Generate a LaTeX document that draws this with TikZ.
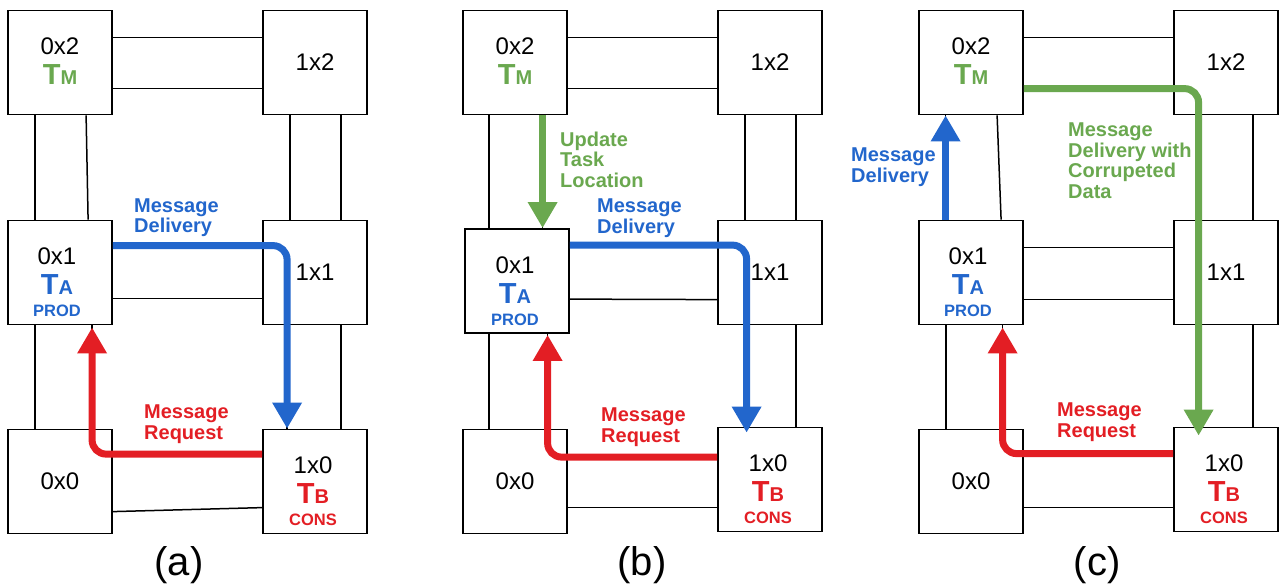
\documentclass[tikz,border=0pt]{standalone}
\usepackage{fontspec}
\setmainfont{Liberation Sans}
\usetikzlibrary{arrows.meta,calc}

\definecolor{msgblue}{HTML}{2266CC}
\definecolor{reqred}{HTML}{E31E24}
\definecolor{taskgreen}{HTML}{6AA84F}

% task name: large T followed by a smaller letter on the same baseline
\newcommand\tsk[1]{{\fontsize{29}{29}\selectfont\bfseries T}{\fontsize{20}{20}\selectfont\bfseries #1}}

% labels of a tile that hosts a task: coordinate, task, colour, role, horizontal shift
\newcommand\tasktile[6]{%
  \node[num] (#1n) at ([xshift=#6pt,yshift=16pt]#1.center) {#2};
  \node[tname,text=#4] (#1t) at ([xshift=#6pt,yshift=-22pt]#1.center) {\tsk{#3}};
  \node[role,text=#4] (#1r) at ([xshift=#6pt,yshift=-44pt]#1.center) {#5};}

\tikzset{
  tile/.style={draw=black, line width=1.8pt, fill=white, minimum width=104pt,
               minimum height=104pt, inner sep=0pt},
  link/.style={draw=black, line width=1.5pt},
  flow/.style={line width=7pt, rounded corners=14pt, line cap=butt,
               -{Triangle[width=28pt,length=26pt]}},
  num/.style={inner sep=0pt, font=\fontsize{24}{24}\selectfont},
  tname/.style={inner sep=0pt, anchor=base},
  role/.style={inner sep=0pt, anchor=base, font=\fontsize{16.5}{16.5}\selectfont\bfseries},
  note/.style={inner sep=0pt, anchor=north west, align=left,
               font=\fontsize{20}{20.5}\selectfont\bfseries},
  caption/.style={inner sep=0pt, font=\fontsize{40}{40}\selectfont},
}

\begin{document}
\begin{tikzpicture}[x=1pt,y=-1pt]
\useasboundingbox (0,0) rectangle (1279,587);

% ---------------- tiles ----------------
\foreach \p/\dx in {a/0,c/911}{
  \node[tile] (\p02) at (60+\dx,62.5)  {};
  \node[tile] (\p12) at (315+\dx,62.5) {};
  \node[tile] (\p01) at (60+\dx,272.5) {};
  \node[tile] (\p11) at (315+\dx,272.5){};
  \node[tile] (\p00) at (60+\dx,481.5) {};
}
\node[tile] (a10) at (315,481.5) {};
\node[tile] (c10) at (1226,479.5) {};

\node[tile] (b02) at (515,62.5)  {};
\node[tile] (b12) at (770,62.5)  {};
\node[tile] (b01) at (517,281)   {};
\node[tile] (b11) at (770,272.5) {};
\node[tile] (b00) at (515,481.5) {};
\node[tile] (b10) at (770,479.5) {};

% ---------------- links, panel (a) ----------------
\draw[link] ([yshift=-28pt]a02.north east) -- ([yshift=-28pt]a12.north west);
\draw[link] ([yshift=-79pt]a02.north east) -- ([yshift=-79pt]a12.north west);
\draw[link] ([yshift=-26pt]a01.north east) -- ([yshift=-26pt]a11.north west);
\draw[link] ([yshift=-79pt]a01.north east) -- ([yshift=-79pt]a11.north west);
\draw[link] ([yshift=-25.5pt]a00.north east) -- ([yshift=-25.5pt]a10.north west);
\draw[link] ([yshift=-83pt]a00.north east) -- ([yshift=-79pt]a10.north west);
\draw[link] ([xshift=28pt]a02.south west) -- ([xshift=28pt]a01.north west);
\draw[link] ([xshift=79pt]a02.south west) -- ([xshift=81pt]a01.north west);
\draw[link] ([xshift=28pt]a01.south west) -- ([xshift=28pt]a00.north west);
\draw[link] ([xshift=85pt]a01.south west) -- ([xshift=85pt]a00.north west);
\draw[link] ([xshift=28pt]a12.south west) -- ([xshift=28pt]a11.north west);
\draw[link] ([xshift=79pt]a12.south west) -- ([xshift=79pt]a11.north west);
\draw[link] ([xshift=25pt]a11.south west) -- ([xshift=25pt]a10.north west);
\draw[link] ([xshift=79pt]a11.south west) -- ([xshift=79pt]a10.north west);

% ---------------- links, panel (b) ----------------
\draw[link] ([yshift=-28pt]b02.north east) -- ([yshift=-28pt]b12.north west);
\draw[link] ([yshift=-79pt]b02.north east) -- ([yshift=-79pt]b12.north west);
\draw[link] ([yshift=-17pt]b01.north east) -- ([yshift=-26pt]b11.north west);
\draw[link] ([yshift=-71pt]b01.north east) -- ([yshift=-80pt]b11.north west);
\draw[link] ([yshift=-28.5pt]b00.north east) -- ([yshift=-30.5pt]b10.north west);
\draw[link] ([yshift=-79pt]b00.north east) -- ([yshift=-81pt]b10.north west);
\draw[link] ([xshift=27pt]b02.south west) -- ([xshift=25pt]b01.north west);
\draw[link] ([xshift=80.5pt]b02.south west) -- ([xshift=78.5pt]b01.north west);
\draw[link] ([xshift=25pt]b01.south west) -- ([xshift=27pt]b00.north west);
\draw[link] ([xshift=83.5pt]b01.south west) -- ([xshift=85.5pt]b00.north west);
\draw[link] ([xshift=28pt]b12.south west) -- ([xshift=28pt]b11.north west);
\draw[link] ([xshift=79pt]b12.south west) -- ([xshift=79pt]b11.north west);
\draw[link] ([xshift=29.5pt]b11.south west) -- ([xshift=29.5pt]b10.north west);
\draw[link] ([xshift=79pt]b11.south west) -- ([xshift=79pt]b10.north west);

% ---------------- links, panel (c) ----------------
\draw[link] ([yshift=-28pt]c02.north east) -- ([yshift=-28pt]c12.north west);
\draw[link] ([yshift=-79pt]c02.north east) -- ([yshift=-79pt]c12.north west);
\draw[link] ([yshift=-28pt]c01.north east) -- ([yshift=-28pt]c11.north west);
\draw[link] ([yshift=-80pt]c01.north east) -- ([yshift=-80pt]c11.north west);
\draw[link] ([yshift=-25pt]c00.north east) -- ([yshift=-27pt]c10.north west);
\draw[link] ([yshift=-79pt]c00.north east) -- ([yshift=-81pt]c10.north west);
\draw[link] ([xshift=27.5pt]c02.south west) -- ([xshift=27.5pt]c01.north west);
\draw[link] ([xshift=79pt]c02.south west) -- ([xshift=83pt]c01.north west);
\draw[link] ([xshift=28pt]c01.south west) -- ([xshift=28pt]c00.north west);
\draw[link] ([xshift=84.5pt]c01.south west) -- ([xshift=84.5pt]c00.north west);
\draw[link] ([xshift=25.5pt]c12.south west) -- ([xshift=25.5pt]c11.north west);
\draw[link] ([xshift=80pt]c12.south west) -- ([xshift=80pt]c11.north west);
\draw[link] ([xshift=25.5pt]c11.south west) -- ([xshift=25.5pt]c10.north west);
\draw[link] ([xshift=80pt]c11.south west) -- ([xshift=80pt]c10.north west);

% ---------------- tile labels ----------------
\foreach \p in {a,b,c}{
  \node[num] (\p12n) at (\p12.center) {1x2};
  \node[num] (\p11n) at (\p11.center) {1x1};
  \node[num] (\p00n) at (\p00.center) {0x0};
}
\tasktile{a02}{0x2}{M}{taskgreen}{}{0}
\tasktile{a01}{0x1}{A}{msgblue}{PROD}{-3}
\tasktile{a10}{1x0}{B}{reqred}{CONS}{-2}
\tasktile{b02}{0x2}{M}{taskgreen}{}{0}
\tasktile{b01}{0x1}{A}{msgblue}{PROD}{-2}
\tasktile{b10}{1x0}{B}{reqred}{CONS}{-2}
\tasktile{c02}{0x2}{M}{taskgreen}{}{0}
\tasktile{c01}{0x1}{A}{msgblue}{PROD}{-3}
\tasktile{c10}{1x0}{B}{reqred}{CONS}{-2}

% ---------------- message flows ----------------
% (a)
\draw[flow,msgblue] ([yshift=-26pt]a01.north east) -| ([xshift=25pt]a10.north west);
\draw[flow,reqred]  ([yshift=-25.5pt]a10.north west) -| ([xshift=85pt,yshift=-2pt]a01.south west);
% (b)
\draw[flow,taskgreen] ([xshift=80.5pt]b02.south west) -- ([xshift=78.5pt]b01.north west);
\draw[flow,msgblue] ([yshift=-17pt]b01.north east) -| ([xshift=29.5pt,yshift=-6pt]b10.north west);
\draw[flow,reqred]  ([yshift=-30.5pt]b10.north west) -| ([xshift=83.5pt,yshift=-1pt]b01.south west);
% (c)
\draw[flow,msgblue] ([xshift=27.5pt]c01.north west) -- ([xshift=27.5pt]c02.south west);
\draw[flow,taskgreen] ([yshift=-79pt]c02.north east) -| ([xshift=25.5pt,yshift=-9pt]c10.north west);
\draw[flow,reqred]  ([yshift=-27pt]c10.north west) -| ([xshift=84.5pt,yshift=-2pt]c01.south west);

% ---------------- flow notes ----------------
\node[note,text=msgblue]   (na1) at (134,198.5) {Message\\Delivery};
\node[note,text=reqred]    (na2) at (144,405)   {Message\\Request};
\node[note,text=taskgreen] (nb0) at (560,131.5) {Update\\Task\\Location};
\node[note,text=msgblue]   (nb1) at (597,199)   {Message\\Delivery};
\node[note,text=reqred]    (nb2) at (601,408)   {Message\\Request};
\node[note,text=msgblue]   (nc1) at (851,148)   {Message\\Delivery};
\node[note,text=taskgreen] (nc0) at (1068,123)  {Message\\Delivery with\\Corrupeted\\Data};
\node[note,text=reqred]    (nc2) at (1057,403)  {Message\\Request};

% ---------------- captions ----------------
\node[caption] (capa) at (179,565.5)  {(a)};
\node[caption] (capb) at (642,565.5)  {(b)};
\node[caption] (capc) at (1097,565.5) {(c)};
\end{tikzpicture}
\end{document}
